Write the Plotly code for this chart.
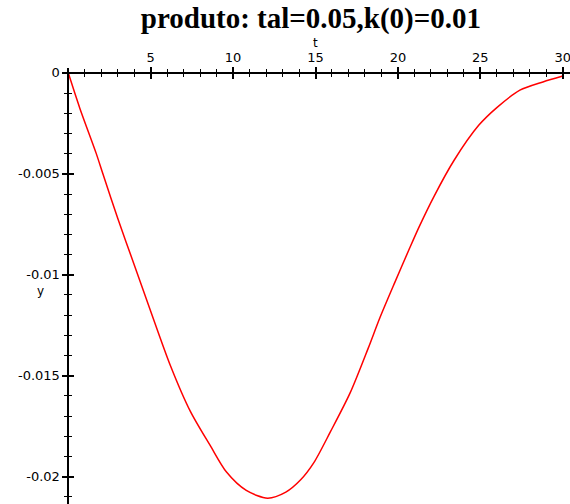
import plotly.graph_objects as go

# data
t_vals = [0, 0.7, 1.7, 2.1, 3.0, 4.0, 5.0, 6.2, 7.4, 8.6, 9.6, 10.8, 12.1, 13.2, 14.1,
          14.9, 15.9, 17.1, 18.2, 18.9, 19.8, 20.7, 21.3, 22.2, 23.4, 24.9, 26.0,
          27.4, 28.8, 30.0]
y_vals = [0, -0.00175, -0.00400, -0.0050, -0.0072, -0.0095, -0.0118, -0.01450,
          -0.01675, -0.01844, -0.01977, -0.02068, -0.02106, -0.02076, -0.02015,
          -0.01930, -0.01778, -0.01585, -0.01363, -0.01214, -0.01040, -0.00870,
          -0.00760, -0.0061, -0.00434, -0.0026, -0.00172, -0.00086, -0.00045,
          -0.00016]

x_tickvals = [5, 10, 15, 20, 25, 30]
x_ticktext = ["5", "10", "15", "20", "25", "30"]
y_tickvals = [0, -0.005, -0.01, -0.015, -0.02]
y_ticktext = ["0", "-0.005", "-0.01", "-0.015", "-0.02"]

title_text = "produto: tal=0.05,k(0)=0.01"

x_range = [-0.38, 30.44]
y_range = [-0.02135, 0.00024]

# axes cross at the origin
x_axis_pos = (0 - y_range[0]) / (y_range[1] - y_range[0])
y_axis_pos = (0 - x_range[0]) / (x_range[1] - x_range[0])

tick_font = dict(family="DejaVu Sans", size=13, color="black")

fig = go.Figure()
fig.add_trace(go.Scatter(x=t_vals, y=y_vals, mode="lines",
                         line=dict(color="#ff0000", width=1.5, shape="spline",
                                   smoothing=0.8),
                         xaxis="x", yaxis="y", hoverinfo="skip"))
# invisible trace to activate overlay axes (inward ticks)
fig.add_trace(go.Scatter(x=t_vals, y=y_vals, mode="lines",
                         line=dict(color="rgba(0,0,0,0)", width=0),
                         xaxis="x2", yaxis="y2", hoverinfo="skip"))

common_x = dict(range=x_range, anchor="free", position=x_axis_pos, side="top",
                showgrid=False, zeroline=False, tickvals=x_tickvals,
                ticktext=x_ticktext, ticklen=5, tickwidth=1.5, tickcolor="black",
                ticklabeloverflow="allow")
common_y = dict(range=y_range, anchor="free", position=y_axis_pos, side="left",
                showgrid=False, zeroline=False, tickvals=y_tickvals,
                ticktext=y_ticktext, ticklen=5, tickwidth=1.5, tickcolor="black",
                ticklabeloverflow="allow")

fig.update_layout(
    width=570, height=504,
    margin=dict(l=62, r=0, t=68, b=0),
    paper_bgcolor="white", plot_bgcolor="white",
    showlegend=False,
    title=dict(text="<b>" + title_text + "</b>", xref="paper", x=0.49,
               xanchor="center", yref="container", y=0.964, yanchor="middle",
               font=dict(family="Liberation Serif", size=29, color="black")),
    xaxis=dict(**common_x, ticks="outside", showline=True, linecolor="black",
               linewidth=1.6, tickfont=tick_font,
               minor=dict(dtick=1, ticks="outside", ticklen=3, tickwidth=1.2,
                          tickcolor="black")),
    xaxis2=dict(**common_x, overlaying="x", ticks="inside", showline=False,
                showticklabels=False,
                minor=dict(dtick=1, ticks="inside", ticklen=3, tickwidth=1.2,
                           tickcolor="black")),
    yaxis=dict(**common_y, ticks="outside", showline=True, linecolor="black",
               linewidth=1.6, tickfont=tick_font,
               minor=dict(dtick=0.001, ticks="outside", ticklen=3,
                          tickwidth=1.2, tickcolor="black")),
    yaxis2=dict(**common_y, overlaying="y", ticks="inside", showline=False,
                showticklabels=False,
                minor=dict(dtick=0.001, ticks="inside", ticklen=3,
                           tickwidth=1.2, tickcolor="black")),
    annotations=[
        dict(text="t", xref="x", x=15, yref="paper", y=1.058, showarrow=False,
             xanchor="center", yanchor="middle",
             font=dict(family="DejaVu Sans", size=12, color="black")),
        dict(text="y", xref="paper", x=-0.043, yref="y", y=-0.0108,
             showarrow=False, xanchor="center", yanchor="middle",
             font=dict(family="DejaVu Sans", size=12, color="black")),
    ],
)

fig.write_html("out.html")
